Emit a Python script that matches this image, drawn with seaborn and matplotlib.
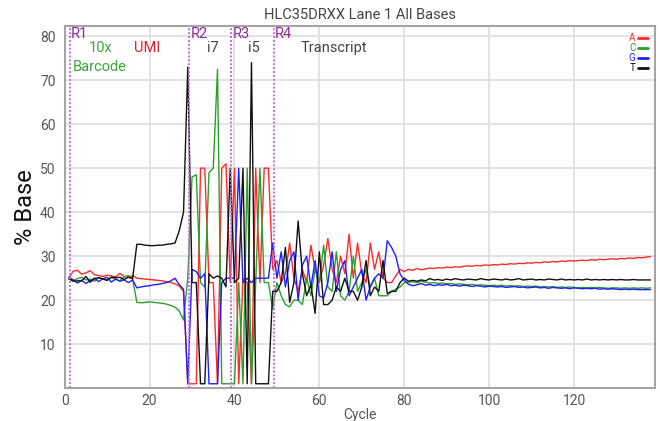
import pandas as pd
import numpy as np
import matplotlib
matplotlib.use("Agg")
import matplotlib.pyplot as plt
import seaborn as sns

# % base per cycle (cycles 1..138)
a_pct = [25.0, 26.6, 26.8, 25.9, 26.2, 26.7, 25.8, 25.6, 25.4, 25.7, 25.5, 25.3, 26.1, 25.4, 25.2, 25.6,
         25.0, 24.9, 24.8, 24.7, 24.6, 24.5, 24.4, 24.2, 24.0, 23.7, 23.2, 22.0,
         1, 1, 1, 50, 50, 24, 24, 1, 50, 51,
         24, 50, 1, 25, 24, 1, 50, 24, 50, 50,
         27, 29, 24, 26, 33, 25, 22, 27, 24, 32.5, 27, 24, 28, 34, 27, 24, 30, 26, 35, 25,
         33, 26, 24, 33, 27, 31, 25, 24, 24, 25.5, 27,
         26.5, 27.0, 26.8, 27.2, 26.9, 27.1, 27.3, 27.2, 27.4, 27.3, 27.5, 27.4, 27.6, 27.5, 27.7,
         27.8, 27.7, 27.9, 27.8, 28.0, 27.9, 28.1, 28.0, 28.2, 28.1, 28.3, 28.2, 28.4, 28.3, 28.5,
         28.4, 28.6, 28.5, 28.7, 28.6, 28.8, 28.7, 28.9, 28.8, 29.0, 28.9, 29.0, 29.1, 29.0, 29.2,
         29.1, 29.3, 29.2, 29.3, 29.4, 29.3, 29.5, 29.4, 29.6, 29.5, 29.7, 29.6, 29.8, 29.9]
c_pct = [24.8, 24.5, 24.9, 25.2, 24.6, 24.8, 24.3, 25.1, 24.9, 24.6, 25.2, 24.8, 24.4, 25.3, 25.6, 24.9,
         19.5, 19.4, 19.5, 19.6, 19.5, 19.4, 19.3, 19.1, 18.8, 18.4, 17.5, 15.5,
         25, 48, 48.5, 24, 23, 49, 50, 72.5, 1, 1,
         1, 1, 24, 1, 50, 1, 24, 50, 24, 24,
         18, 24, 21, 19, 18.5, 20, 20, 19, 25, 21, 27, 24, 32.5, 23, 22, 31, 21, 20, 22, 30,
         22, 24, 27, 23, 25, 21, 21, 21, 22, 22.5, 23,
         24.0, 24.1, 24.2, 24.0, 24.3, 24.1, 23.9, 24.0, 23.8, 23.9, 23.7, 23.8, 23.6, 23.7, 23.6,
         23.5, 23.6, 23.4, 23.5, 23.4, 23.3, 23.4, 23.3, 23.4, 23.2, 23.3, 23.2, 23.3, 23.1, 23.2,
         23.1, 23.2, 23.0, 23.1, 23.0, 23.1, 22.9, 23.0, 22.9, 23.0, 22.9, 22.8, 22.9, 22.8, 22.9,
         22.8, 22.9, 22.8, 22.7, 22.8, 22.8, 22.7, 22.8, 22.7, 22.8, 22.7, 22.8, 22.7, 22.8]
g_pct = [25.3, 24.6, 23.9, 24.5, 23.8, 24.4, 25.0, 24.2, 24.9, 25.2, 24.1, 24.8, 24.3, 24.6, 24.0, 24.6,
         22.8, 23.0, 23.2, 23.3, 23.5, 23.6, 23.8, 24.0, 24.4, 25.0, 23.5, 22.5,
         1, 27, 26.5, 25, 26, 1, 1, 1, 24, 25,
         25, 25, 50, 24, 25, 24, 25, 25, 25, 25,
         33, 25, 31, 23, 29, 31, 20, 28, 30, 23, 29, 21, 20.5, 24, 31, 22, 27, 29, 21, 23,
         25, 27, 20, 23, 25, 26, 25, 33.5, 32, 30, 26,
         24.5, 23.6, 23.3, 23.5, 23.8, 23.4, 23.6, 23.3, 23.5, 23.4, 23.6, 23.3, 23.4, 23.2, 23.4,
         23.3, 23.1, 23.3, 23.2, 23.0, 23.2, 23.1, 23.0, 23.1, 22.9, 23.0, 23.1, 22.9, 23.0, 22.8,
         22.9, 23.0, 22.8, 22.9, 22.7, 22.9, 22.8, 22.7, 22.8, 22.6, 22.8, 22.7, 22.6, 22.7, 22.6,
         22.7, 22.5, 22.6, 22.5, 22.6, 22.5, 22.4, 22.5, 22.4, 22.5, 22.4, 22.4, 22.4, 22.4]
t_pct = [24.9, 24.3, 24.4, 24.4, 25.4, 24.1, 24.9, 25.1, 24.8, 24.5, 25.2, 25.1, 25.2, 24.7, 25.2, 24.9,
         32.7, 32.7, 32.5, 32.4, 32.4, 32.5, 32.5, 32.7, 32.8, 33.0, 35.8, 40.0,
         73, 24, 24, 1, 1, 26, 25, 25.5, 25, 23,
         50, 24, 25, 50, 1, 74, 1, 1, 1, 1,
         22, 22, 24, 32, 19.5, 24, 38, 26, 21, 23.5, 17, 31, 19, 19, 20, 23, 22, 25, 22, 22,
         20, 23, 29, 21, 23, 22, 29, 21.5, 22, 22, 24,
         25.0, 24.3, 24.5, 24.3, 24.6, 24.4, 24.9, 24.6, 24.7, 24.5, 24.8, 24.6, 24.9, 24.7, 24.6,
         24.8, 24.7, 24.6, 24.9, 24.7, 24.6, 24.8, 24.7, 24.6, 24.8, 24.6, 24.7, 24.9, 24.6, 24.7,
         24.8, 24.6, 24.7, 24.6, 24.8, 24.7, 24.6, 24.8, 24.6, 24.7, 24.6, 24.7, 24.6, 24.8, 24.6,
         24.7, 24.6, 24.7, 24.6, 24.7, 24.6, 24.7, 24.6, 24.6, 24.7, 24.6, 24.6, 24.6, 24.6]

cycles = list(range(1, len(a_pct) + 1))

# read boundaries and annotations
read_starts = [1.2, 29.3, 39.2, 49.2]
read_names = ["R1", "R2", "R3", "R4"]

base_colors = {"A": "#ff2a2a", "C": "#2ca02c", "G": "#1f1fff", "T": "#111111"}

df = pd.concat([
    pd.DataFrame({"Cycle": cycles, "Pct": vals, "Base": b})
    for b, vals in zip(["A", "C", "G", "T"], [a_pct, c_pct, g_pct, t_pct])
])

sns.set_style("white")
plt.rcParams["font.family"] = ["Roboto", "DejaVu Sans"]

fig = plt.figure(figsize=(6.6, 4.21), dpi=100)
ax = fig.add_axes([0.098, 0.078, 0.894, 0.86])

sns.lineplot(data=df, x="Cycle", y="Pct", hue="Base", palette=base_colors,
             linewidth=1.0, ax=ax, legend=True)

for xs, name in zip(read_starts, read_names):
    ax.axvline(xs, color="#c46bd6", linestyle=(0, (1, 1)), linewidth=1.4, zorder=3)
    ax.text(xs + 0.3, 82.2, name, color="#8e2a9a", fontsize=10.5, va="top", ha="left")

ax.text(8.5, 78.8, "10x", color="#3aa53a", fontsize=10.5, ha="center", va="top")
ax.text(2.0, 74.6, "Barcode", color="#3aa53a", fontsize=10.5, ha="left", va="top")
ax.text(19.5, 78.8, "UMI", color="#e0202a", fontsize=10.5, ha="center", va="top")
ax.text(34.8, 78.8, "i7", color="#444444", fontsize=10.5, ha="center", va="top")
ax.text(44.5, 78.8, "i5", color="#444444", fontsize=10.5, ha="center", va="top")
ax.text(55.5, 78.8, "Transcript", color="#444444", fontsize=10.5, ha="left", va="top")

leg = ax.legend(loc="upper right", frameon=False, fontsize=7, markerfirst=False,
                handlelength=1.0, handletextpad=0.3, labelspacing=0.0,
                borderaxespad=0.3, labelcolor="linecolor")
for h in leg.get_lines():
    h.set_linewidth(2)

ax.set_xlim(0, 139)
ax.set_ylim(0, 82.3)
ax.set_xticks([0, 20, 40, 60, 80, 100, 120])
ax.set_yticks([10, 20, 30, 40, 50, 60, 70, 80])
ax.grid(True, color="#e3e3e3", linewidth=1.4)
ax.set_axisbelow(True)
for s in ax.spines.values():
    s.set_color("#a5a5a5")
    s.set_linewidth(1.5)
ax.tick_params(axis="both", colors="#555555", labelsize=10, length=3, width=1, direction="out")
ax.tick_params(axis="x", pad=1)
ax.tick_params(axis="both", color="#777777")

ax.set_xlabel("Cycle", fontsize=10, color="#555555", labelpad=0)
ax.set_ylabel("% Base", fontsize=17, color="#111111", labelpad=2)
ax.set_title("HLC35DRXX Lane 1 All Bases", fontsize=10.5, color="#444444", pad=5)

fig.savefig("out.png", dpi=100)
